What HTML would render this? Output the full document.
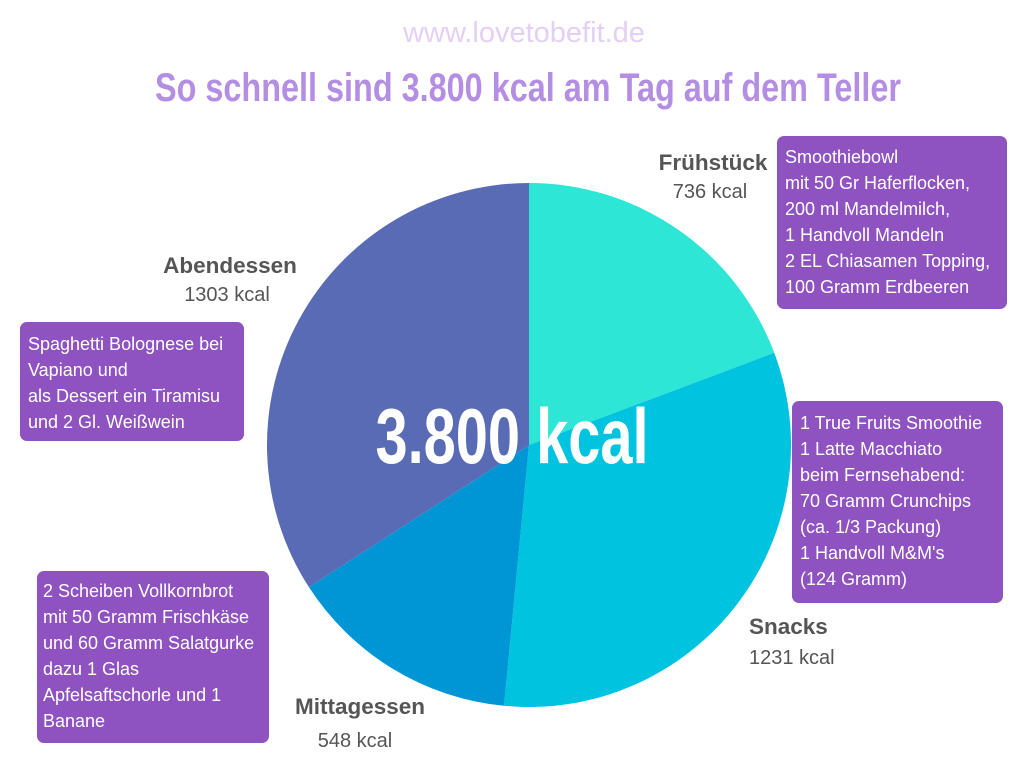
<!DOCTYPE html>
<html><head><meta charset="utf-8"><style>
html,body{margin:0;padding:0;background:#fff;}
svg{display:block;}
</style></head><body>
<svg id="chart" width="1024" height="768" viewBox="0 0 1024 768" xmlns="http://www.w3.org/2000/svg">
<rect width="1024" height="768" fill="#fff"/>
<text x="524" y="42" text-anchor="middle" font-family="Liberation Sans, sans-serif" font-size="29" fill="#e4cff5">www.lovetobefit.de</text>
<text x="528" y="101" text-anchor="middle" font-family="Liberation Sans Narrow, Liberation Sans, sans-serif" font-weight="bold" font-size="40" fill="#b48ee2" textLength="746" lengthAdjust="spacingAndGlyphs">So schnell sind 3.800 kcal am Tag auf dem Teller</text>
<g id="slices"></g>
<text x="512" y="463" text-anchor="middle" font-family="Liberation Sans Narrow, Liberation Sans, sans-serif" font-weight="bold" font-size="78" fill="#fff" textLength="273" lengthAdjust="spacingAndGlyphs">3.800 kcal</text>
<g font-family="Liberation Sans, sans-serif" fill="#555">
<text x="713" y="170" text-anchor="middle" font-weight="bold" font-size="22.5">Frühstück</text>
<text x="710" y="198" text-anchor="middle" font-size="20">736 kcal</text>
<text x="230" y="273" text-anchor="middle" font-weight="bold" font-size="22.5">Abendessen</text>
<text x="227" y="301" text-anchor="middle" font-size="20">1303 kcal</text>
<text x="749" y="634" font-weight="bold" font-size="22.5">Snacks</text>
<text x="749" y="664" font-size="20">1231 kcal</text>
<text x="360" y="714" text-anchor="middle" font-weight="bold" font-size="22.5">Mittagessen</text>
<text x="355" y="747" text-anchor="middle" font-size="20">548 kcal</text>
</g>
<g font-family="Liberation Sans, sans-serif" font-size="18" fill="#fff">
<rect x="777" y="136" width="230" height="173" rx="7" fill="#8e52c1"/>
<text x="785" y="163">Smoothiebowl</text><text x="785" y="189">mit 50 Gr Haferflocken,</text><text x="785" y="215">200 ml Mandelmilch,</text><text x="785" y="241">1 Handvoll Mandeln</text><text x="785" y="267">2 EL Chiasamen Topping,</text><text x="785" y="293">100 Gramm Erdbeeren</text>
<rect x="20" y="322" width="224" height="119" rx="7" fill="#8e52c1"/>
<text x="28" y="350">Spaghetti Bolognese bei</text><text x="28" y="376">Vapiano und</text><text x="28" y="402">als Dessert ein Tiramisu</text><text x="28" y="428">und 2 Gl. Weißwein</text>
<rect x="792" y="401" width="211" height="202" rx="7" fill="#8e52c1"/>
<text x="800" y="429">1 True Fruits Smoothie</text><text x="800" y="455">1 Latte Macchiato</text><text x="800" y="481">beim Fernsehabend:</text><text x="800" y="507">70 Gramm Crunchips</text><text x="800" y="533">(ca. 1/3 Packung)</text><text x="800" y="559">1 Handvoll M&amp;M's</text><text x="800" y="585">(124 Gramm)</text>
<rect x="37" y="571" width="232" height="172" rx="7" fill="#8e52c1"/>
<text x="43" y="597">2 Scheiben Vollkornbrot</text><text x="43" y="623">mit 50 Gramm Frischkäse</text><text x="43" y="649">und 60 Gramm Salatgurke</text><text x="43" y="675">dazu 1 Glas</text><text x="43" y="701">Apfelsaftschorle und 1</text><text x="43" y="727">Banane</text>
</g>
</svg>
<script>
const categories = ["Frühstück", "Snacks", "Mittagessen", "Abendessen"];
const values = [736, 1231, 548, 1303];
const colors = ["#2ee6d6", "#00c3e0", "#0096d6", "#5a6bb5"];
const cx = 529, cy = 445, r = 262;
const g = document.getElementById('slices');
const total = values.reduce((a, b) => a + b, 0);
let acc = 0;
function pt(a){ return [cx + r*Math.sin(a), cy - r*Math.cos(a)]; }
values.forEach((v, i) => {
  const a0 = acc/total*2*Math.PI; acc += v; const a1 = acc/total*2*Math.PI;
  const p0 = pt(a0), p1 = pt(a1);
  const large = (a1 - a0) > Math.PI ? 1 : 0;
  const p = document.createElementNS('http://www.w3.org/2000/svg', 'path');
  p.setAttribute('d', `M${cx},${cy} L${p0[0]},${p0[1]} A${r},${r} 0 ${large} 1 ${p1[0]},${p1[1]} Z`);
  p.setAttribute('fill', colors[i]);
  
  
  g.appendChild(p);
});
</script>
</body></html>
